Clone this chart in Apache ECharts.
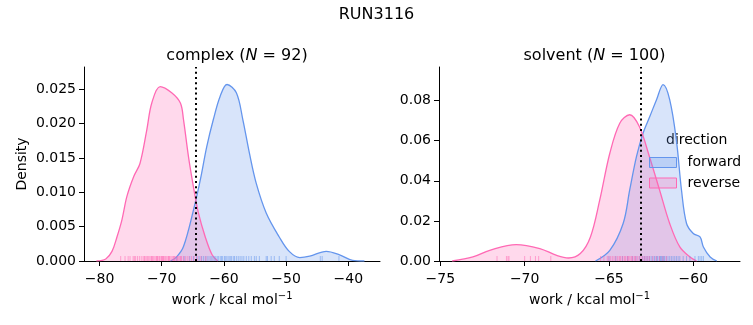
<!DOCTYPE html>
<html>
<head>
<meta charset="utf-8">
<script src="https://cdn.jsdelivr.net/npm/echarts@6/dist/echarts.min.js"></script>
<style>html,body{margin:0;padding:0;background:#fff}#c{width:753px;height:325px}</style>
</head>
<body>
<div id="c"></div>
<script>
// ---- data ----
const complexForwardKde = [[-68.6,0],[-67.6,0.0006],[-66.5,0.0021],[-64.9,0.0074],[-63.8,0.0118],[-62.75,0.0167],[-61.7,0.0206],[-60.6,0.0240],[-59.5,0.0257],[-58.0,0.0245],[-56.96,0.0206],[-55.9,0.0157],[-54.8,0.0113],[-53.2,0.0070],[-51.1,0.0035],[-49.5,0.0014],[-47.8,0.0005],[-46.2,0.0007],[-43.55,0.0014],[-41.4,0.0009],[-39.3,0.0001],[-37.4,0]];
const complexReverseKde = [[-80.5,0],[-79.0,0.0003],[-78.0,0.0014],[-77.2,0.0035],[-76.4,0.0060],[-75.6,0.0094],[-74.5,0.0123],[-73.5,0.0142],[-72.4,0.0191],[-71.6,0.0230],[-70.25,0.0254],[-68.4,0.0245],[-67.0,0.0230],[-66.5,0.0206],[-65.7,0.0152],[-64.9,0.0108],[-64.1,0.0070],[-63.0,0.0035],[-61.9,0.0009],[-61.0,0]];
const solventForwardKde = [[-65.8,0],[-64.95,0.0053],[-64.16,0.0187],[-63.77,0.0354],[-63.37,0.0520],[-62.98,0.0637],[-62.58,0.0720],[-62.18,0.0804],[-61.79,0.0879],[-61.4,0.0804],[-61.0,0.0600],[-60.7,0.0354],[-60.4,0.0187],[-60.0,0.0137],[-59.6,0.0120],[-59.4,0.0070],[-59.0,0.0020],[-58.6,0]];
const solventReverseKde = [[-74.3,0],[-73.07,0.0020],[-72.07,0.0053],[-70.5,0.0082],[-69.1,0.0062],[-68.1,0.0028],[-67.4,0.0015],[-66.7,0.0037],[-66.1,0.0120],[-65.55,0.0303],[-64.95,0.0537],[-64.36,0.0687],[-63.77,0.0729],[-63.2,0.0670],[-62.6,0.0520],[-62.0,0.0354],[-61.4,0.0187],[-60.8,0.0070],[-60.2,0.0020],[-59.8,0]];

const complexForwardRug = [-67.6,-66.4,-65.5,-64.9,-64.4,-64.0,-63.6,-63.3,-63.0,-62.7,-62.4,-62.1,-61.9,-61.6,-61.4,-61.1,-60.9,-60.6,-60.4,-60.2,-59.9,-59.7,-59.5,-59.2,-59.0,-58.8,-58.5,-58.3,-58.0,-57.7,-57.4,-57.1,-56.8,-56.4,-56.0,-55.6,-55.1,-54.8,-54.3,-53.2,-53.0,-52.4,-51.9,-51.1,-50.0,-44.5,-44.2,-41.5];
const complexReverseRug = [-76.6,-75.9,-75.4,-75.1,-74.6,-74.4,-74.2,-73.9,-73.6,-73.3,-73.0,-72.8,-72.7,-72.5,-72.3,-72.1,-71.9,-71.7,-71.6,-71.5,-71.3,-71.1,-70.9,-70.8,-70.7,-70.6,-70.4,-70.3,-70.1,-70.0,-69.9,-69.8,-69.7,-69.6,-69.4,-69.2,-69.0,-68.9,-68.8,-68.7,-68.5,-68.3,-68.1,-68.0,-67.9,-67.7,-67.5,-67.4,-67.2,-67.0,-66.9,-66.8,-66.5,-66.2,-65.9,-65.6,-65.2,-64.8,-64.3,-63.7,-62.9];
const solventForwardRug = [-65.0,-64.6,-64.2,-63.9,-63.6,-63.4,-63.2,-63.0,-62.9,-62.8,-62.7,-62.6,-62.5,-62.4,-62.3,-62.2,-62.15,-62.1,-62.0,-61.95,-61.9,-61.85,-61.8,-61.75,-61.7,-61.6,-61.5,-61.4,-61.3,-61.2,-61.1,-61.0,-60.9,-60.8,-60.6,-60.4,-60.2,-59.9,-59.7,-59.6,-59.5,-59.4];
const solventReverseRug = [-71.64,-71.08,-70.99,-70.93,-70.0,-69.66,-69.36,-69.17,-68.45,-65.5,-65.3,-65.1,-65.0,-64.9,-64.8,-64.7,-64.6,-64.5,-64.4,-64.35,-64.3,-64.2,-64.1,-64.05,-64.0,-63.9,-63.85,-63.8,-63.7,-63.65,-63.6,-63.5,-63.45,-63.4,-63.3,-63.2,-63.1,-63.0,-62.9,-62.8,-62.7,-62.6,-62.4,-62.2,-62.0,-61.8,-61.6];

const complexVline = -64.57;
const solventVline = -63.11;

const complexXTicks = [-80,-70,-60,-50,-40];
const complexYTicks = [0,0.005,0.01,0.015,0.02,0.025];
const solventXTicks = [-75,-70,-65,-60];
const solventYTicks = [0,0.02,0.04,0.06,0.08];

const FWD = '#6495ED', REV = '#FF69B4';
const FONT = 'DejaVu Sans';

function minus(s){ return String(s).replace('-', '\u2212'); }

function xAxisCfg(idx, min, max, ticks){
  return {
    type:'value', gridIndex: idx, min: min, max: max,
    name: '{a|work / kcal mol}{s|\u22121}', nameLocation:'middle', nameGap: 30,
    nameTextStyle: {color:'#000', fontFamily: FONT, fontSize: 14,
      rich: {a:{fontFamily:FONT,fontSize:14,color:'#000'}, s:{fontFamily:FONT,fontSize:10,color:'#000',padding:[0,0,9,0]}}},
    axisLine:{show:true, onZero:false, lineStyle:{color:'#000', width:1}},
    axisTick:{show:true, length:5, lineStyle:{color:'#000'}, customValues: ticks},
    axisLabel:{color:'#000', fontFamily:FONT, fontSize:14, margin:11, customValues: ticks, formatter: v => minus(v)},
    splitLine:{show:false}
  };
}
function yAxisCfg(idx, max, ticks, dec, name){
  return {
    type:'value', gridIndex: idx, min: 0, max: max,
    name: name, nameLocation:'middle', nameGap: 55, nameRotate: 90,
    nameTextStyle:{color:'#000', fontFamily:FONT, fontSize:14},
    axisLine:{show:true, lineStyle:{color:'#000', width:1}},
    axisTick:{show:true, length:5, lineStyle:{color:'#000'}, customValues: ticks},
    axisLabel:{color:'#000', fontFamily:FONT, fontSize:14, margin:8, customValues: ticks, formatter: v => v.toFixed(dec)},
    splitLine:{show:false}
  };
}
function kde(name, data, color, idx, vline){
  const s = {
    name: name, type:'line', xAxisIndex: idx, yAxisIndex: idx, data: data,
    smooth: 0.35, showSymbol:false, symbol:'none',
    lineStyle:{color: color, width: 1.3},
    areaStyle:{color: color, opacity: 0.25},
    itemStyle:{color: color},
    z: 2
  };
  if (vline !== undefined) {
    s.markLine = {silent:true, symbol:['none','none'], label:{show:false},
      lineStyle:{color:'#000', type:[2,3.2], width:2}, data:[{xAxis: vline}], z: 5};
  }
  return s;
}
function rug(name, vals, color, idx){
  return {
    name: name, type:'scatter', xAxisIndex: idx, yAxisIndex: idx,
    data: vals.map(v => [v, 0]), symbol:'rect', symbolSize:[1,5], symbolOffset:[0,-2.5],
    itemStyle:{color: color, opacity: 0.55}, silent:true, clip:false, z: 3
  };
}
const titleRich = {
  a:{fontFamily:FONT,fontSize:16,fontWeight:'normal',color:'#000'},
  i:{fontFamily:FONT,fontSize:16,fontWeight:'normal',fontStyle:'italic',color:'#000'}
};

const chart = echarts.init(document.getElementById('c'), null, {renderer:'canvas'});
chart.setOption({
  animation:false,
  backgroundColor:'#fff',
  title:[
    {text:'RUN3116', left:'center', top:2, textStyle:{fontFamily:FONT, fontSize:16, fontWeight:'normal', color:'#000'}},
    {text:'{a|complex (}{i|N}{a| = 92)}', left:232, textAlign:'center', top:43,
      textStyle:{fontWeight:'normal', rich:titleRich}},
    {text:'{a|solvent (}{i|N}{a| = 100)}', left:589.5, textAlign:'center', top:43,
      textStyle:{fontWeight:'normal', rich:titleRich}}
  ],
  grid:[
    {left:84, top:67, width:296, height:194},
    {left:439, top:67, width:301, height:194}
  ],
  xAxis:[ xAxisCfg(0, -82.5, -34.9, complexXTicks), xAxisCfg(1, -75.08, -57.23, solventXTicks) ],
  yAxis:[ yAxisCfg(0, 0.02825, complexYTicks, 3, 'Density'), yAxisCfg(1, 0.0967, solventYTicks, 2, '') ],
  legend:{
    orient:'vertical', left:649, top:155.5, padding:0, itemWidth:27, itemHeight:10, itemGap:6.5,
    icon:'rect',
    textStyle:{fontFamily:FONT, fontSize:14, color:'#000', padding:[0,0,0,6]},
    data:[
      {name:'forward', itemStyle:{color:'rgba(100,149,237,0.25)', borderColor:FWD, borderWidth:1}},
      {name:'reverse', itemStyle:{color:'rgba(255,105,180,0.25)', borderColor:REV, borderWidth:1}}
    ]
  },
  graphic:[
    {type:'text', left:666, top:133, style:{text:'direction', fontFamily:FONT, fontSize:14, fill:'#000'}}
  ],
  series:[
    kde('forward', complexForwardKde, FWD, 0, complexVline),
    kde('reverse', complexReverseKde, REV, 0),
    rug('forward', complexForwardRug, FWD, 0),
    rug('reverse', complexReverseRug, REV, 0),
    kde('forward', solventForwardKde, FWD, 1, solventVline),
    kde('reverse', solventReverseKde, REV, 1),
    rug('forward', solventForwardRug, FWD, 1),
    rug('reverse', solventReverseRug, REV, 1)
  ]
});
</script>
</body>
</html>
